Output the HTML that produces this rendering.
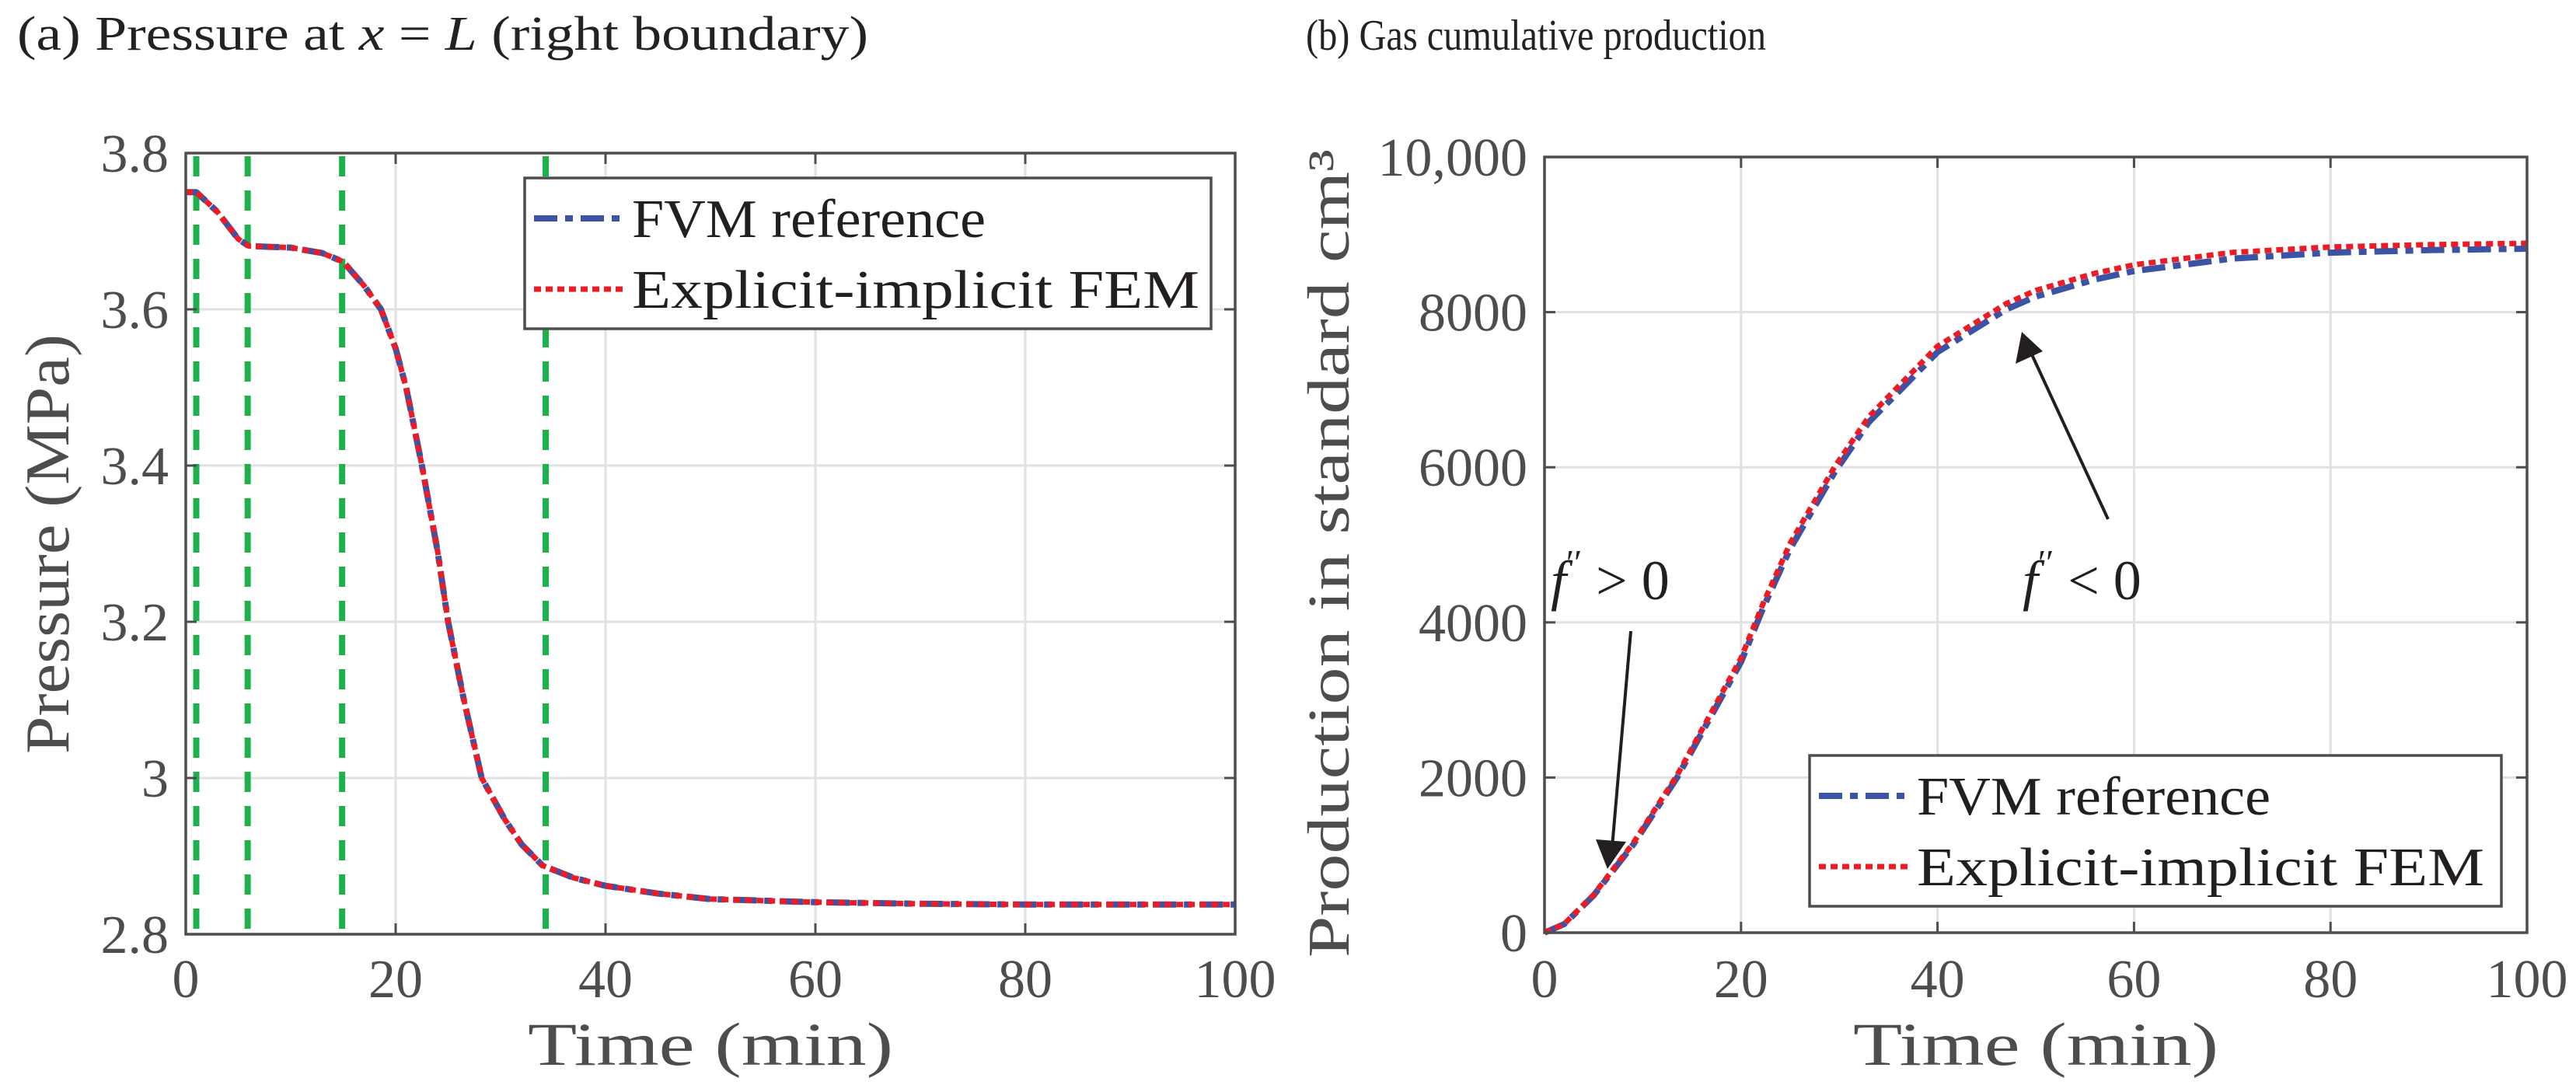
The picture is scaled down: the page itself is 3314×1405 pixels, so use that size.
<!DOCTYPE html>
<html><head><meta charset="utf-8"><style>
html,body{margin:0;padding:0;background:#fff;}
svg{display:block;font-family:"Liberation Serif",serif;}
</style></head><body>
<svg id="fig" width="3314" height="1405" viewBox="0 0 3314 1405" xmlns="http://www.w3.org/2000/svg">
<text x="22" y="64" font-size="62" fill="#222" textLength="1095" lengthAdjust="spacingAndGlyphs">(a) Pressure at  <tspan font-style="italic">x</tspan> = <tspan font-style="italic">L</tspan>  (right boundary)</text>
<text x="1680" y="64" font-size="56" fill="#222" textLength="592" lengthAdjust="spacingAndGlyphs">(b) Gas cumulative production</text>
<g id="pa"></g>
<g id="pb"></g>
</svg>
<script>
// Panel (a) data
const aTimes = [0, 1, 3, 5, 6, 8, 10, 13, 15, 17, 18.6, 20, 21, 22.5, 24, 25, 26.5, 28.2, 30.4, 32, 34, 37, 40, 45, 50, 60, 70, 80, 100];
const aFVM = [3.75, 3.75, 3.725, 3.69, 3.681, 3.680, 3.679, 3.672, 3.661, 3.63, 3.60, 3.55, 3.50, 3.40, 3.29, 3.20, 3.10, 3.00, 2.947, 2.915, 2.888, 2.872, 2.862, 2.852, 2.845, 2.841, 2.839, 2.838, 2.838];
const aFEM = [3.75, 3.75, 3.725, 3.69, 3.681, 3.680, 3.679, 3.672, 3.661, 3.63, 3.60, 3.55, 3.50, 3.40, 3.29, 3.20, 3.10, 3.00, 2.947, 2.915, 2.888, 2.872, 2.862, 2.852, 2.845, 2.841, 2.839, 2.838, 2.838];
const aMarkers = [1, 5.9, 14.9, 34.3];
const aXTicks = [0, 20, 40, 60, 80, 100];
const aYTicks = [2.8, 3, 3.2, 3.4, 3.6, 3.8];
const aYTickLabels = ["2.8", "3", "3.2", "3.4", "3.6", "3.8"];
// Panel (b) data
const bTimes = [0, 2, 5, 9, 13.5, 20, 22.3, 25, 29.5, 33, 40, 47, 50, 56, 60, 70, 80, 90, 100];
const bFVM = [0, 110, 480, 1130, 2000, 3490, 4200, 4950, 5930, 6580, 7485, 8035, 8200, 8420, 8530, 8690, 8767, 8800, 8818];
const bFEM = [0, 112, 490, 1150, 2030, 3540, 4260, 5020, 6000, 6650, 7560, 8110, 8280, 8500, 8610, 8770, 8840, 8870, 8888];
const bXTicks = [0, 20, 40, 60, 80, 100];
const bYTicks = [0, 2000, 4000, 6000, 8000, 10000];
const bYTickLabels = ["0", "2000", "4000", "6000", "8000", "10,000"];

const NS = "http://www.w3.org/2000/svg";
function mk(parent, tag, attrs, text) {
  const e = document.createElementNS(NS, tag);
  for (const k in attrs) e.setAttribute(k, attrs[k]);
  if (text !== undefined) e.textContent = text;
  parent.appendChild(e);
  return e;
}
function scale(d0, d1, r0, r1) { return v => r0 + (v - d0) / (d1 - d0) * (r1 - r0); }

function axes(g, X, Y, x0, x1, y0, y1, xt, yt, prefix) {
  xt.forEach(v => {
    const l = mk(g, "line", {x1: X(v), x2: X(v), y1: y0, y2: y1, stroke: "#e1e1e1", "stroke-width": 3});
    
    
  });
  yt.forEach(v => {
    const l = mk(g, "line", {x1: x0, x2: x1, y1: Y(v), y2: Y(v), stroke: "#e1e1e1", "stroke-width": 3});
    
    
  });
}
function frame(g, X, Y, x0, x1, y0, y1, xt, yt, ytl, prefix) {
  const r = mk(g, "rect", {x: x0, y: y0, width: x1 - x0, height: y1 - y0, fill: "none", stroke: "#4d4d4d", "stroke-width": 3.5});
  
  
  xt.forEach(v => {
    mk(g, "line", {x1: X(v), x2: X(v), y1: y1, y2: y1 - 14, stroke: "#4d4d4d", "stroke-width": 3});
    mk(g, "line", {x1: X(v), x2: X(v), y1: y0, y2: y0 + 14, stroke: "#4d4d4d", "stroke-width": 3});
    const t = mk(g, "text", {x: X(v), y: 1283, "font-size": 70, "text-anchor": "middle", fill: "#4d4d4d"}, String(v));
    
    
  });
  yt.forEach((v, i) => {
    mk(g, "line", {x1: x0, x2: x0 + 14, y1: Y(v), y2: Y(v), stroke: "#4d4d4d", "stroke-width": 3});
    mk(g, "line", {x1: x1, x2: x1 - 14, y1: Y(v), y2: Y(v), stroke: "#4d4d4d", "stroke-width": 3});
    const t = mk(g, "text", {x: x0 - 22, y: Y(v) + 24, "font-size": 70, "text-anchor": "end", fill: "#4d4d4d"}, ytl[i]);
    
    
  });
  const xl = mk(g, "text", {x: (x0 + x1) / 2, y: 1370, "font-size": 78, "text-anchor": "middle", fill: "#4d4d4d", textLength: 470, lengthAdjust: "spacingAndGlyphs"}, "Time (min)");
  
  
}
function path(g, X, Y, xs, ys, attrs, name) {
  const d = xs.map((x, i) => (i ? "L" : "M") + X(x).toFixed(1) + "," + Y(ys[i]).toFixed(1)).join("");
  const p = mk(g, "path", Object.assign({d: d, fill: "none", "stroke-linejoin": "round"}, attrs));
  
  
  return p;
}
const blueStyle = {stroke: "#3a53a4", "stroke-width": 8, "stroke-dasharray": "30 10 10 10"};
const redStyle = {stroke: "#ed1c24", "stroke-width": 7, "stroke-dasharray": "9 6"};
function legend(g, lx, ly, w, h, prefix) {
  const lg = mk(g, "g", {});
  
  
  mk(lg, "rect", {x: lx, y: ly, width: w, height: h, fill: "#fff", stroke: "#4d4d4d", "stroke-width": 3.5});
  const r1 = ly + 52, r2 = ly + 143;
  const l1 = mk(lg, "line", Object.assign({x1: lx + 12, x2: lx + 128, y1: r1, y2: r1}, blueStyle));
  
  
  const l2 = mk(lg, "line", Object.assign({x1: lx + 12, x2: lx + 128, y1: r2, y2: r2}, redStyle));
  
  
  const t1 = mk(lg, "text", {x: lx + 138, y: r1 + 24, "font-size": 70, fill: "#231f20", textLength: 455, lengthAdjust: "spacingAndGlyphs"}, "FVM reference");
  
  
  const t2 = mk(lg, "text", {x: lx + 138, y: r2 + 24, "font-size": 70, fill: "#231f20", textLength: 730, lengthAdjust: "spacingAndGlyphs"}, "Explicit-implicit FEM");
  
  
}

// Panel (a)
(function () {
  const g = document.getElementById("pa");
  const x0 = 239, x1 = 1589, y0 = 197, y1 = 1202;
  const X = scale(0, 100, x0, x1), Y = scale(2.8, 3.8, y1, y0);
  axes(g, X, Y, x0, x1, y0, y1, aXTicks, aYTicks, "pressure");
  aMarkers.forEach(v => {
    const l = mk(g, "line", {x1: X(v), x2: X(v), y1: y0 + 4, y2: y1 - 2, stroke: "#1db14b", "stroke-width": 8, "stroke-dasharray": "26 18"});
    
    
  });
  path(g, X, Y, aTimes, aFVM, blueStyle, "fvm-pressure-line");
  path(g, X, Y, aTimes, aFEM, redStyle, "fem-pressure-line");
  frame(g, X, Y, x0, x1, y0, y1, aXTicks, aYTicks, aYTickLabels, "pressure");
  legend(g, 675, 229, 883, 194, "pressure");
  const yl = mk(g, "text", {x: 0, y: 0, "font-size": 80, "text-anchor": "middle", fill: "#4d4d4d", textLength: 540, lengthAdjust: "spacingAndGlyphs", transform: "translate(88,700) rotate(-90)"}, "Pressure (MPa)");
  
  
})();

// Panel (b)
(function () {
  const g = document.getElementById("pb");
  const x0 = 1987, x1 = 3251, y0 = 202, y1 = 1200;
  const X = scale(0, 100, x0, x1), Y = scale(0, 10000, y1, y0);
  axes(g, X, Y, x0, x1, y0, y1, bXTicks, bYTicks, "production");
  path(g, X, Y, bTimes, bFVM, blueStyle, "fvm-production-line");
  path(g, X, Y, bTimes, bFEM, redStyle, "fem-production-line");
  frame(g, X, Y, x0, x1, y0, y1, bXTicks, bYTicks, bYTickLabels, "production");
  legend(g, 2328, 972, 890, 194, "production");
  const yl = mk(g, "text", {x: 0, y: 0, "font-size": 76, "text-anchor": "middle", fill: "#4d4d4d", textLength: 1040, lengthAdjust: "spacingAndGlyphs", transform: "translate(1735,712) rotate(-90)"});
  
  
  yl.textContent = "Production in standard cm³";
  // annotations
  const a1 = mk(g, "text", {x: 1995, y: 771, "font-size": 72, fill: "#231f20"});
  
  
  mk(a1, "tspan", {"font-style": "italic"}, "f");
  mk(a1, "tspan", {"font-size": 46, dy: -32}, "′′");
  mk(a1, "tspan", {dy: 32}, " > 0");
  const a2 = mk(g, "text", {x: 2602, y: 771, "font-size": 72, fill: "#231f20"});
  
  
  mk(a2, "tspan", {"font-style": "italic"}, "f");
  mk(a2, "tspan", {"font-size": 46, dy: -32}, "′′");
  mk(a2, "tspan", {dy: 32}, " < 0");
  const ar1 = mk(g, "g", {});
  
  
  mk(ar1, "line", {x1: 2098, y1: 812, x2: 2074, y2: 1090, stroke: "#231f20", "stroke-width": 4});
  mk(ar1, "polygon", {points: "2068,1118 2053,1080 2092,1083", fill: "#231f20"});
  const ar2 = mk(g, "g", {});
  
  
  mk(ar2, "line", {x1: 2712, y1: 668, x2: 2612, y2: 452, stroke: "#231f20", "stroke-width": 4});
  mk(ar2, "polygon", {points: "2601,427 2593,468 2628,452", fill: "#231f20"});
})();
</script>
</body></html>
